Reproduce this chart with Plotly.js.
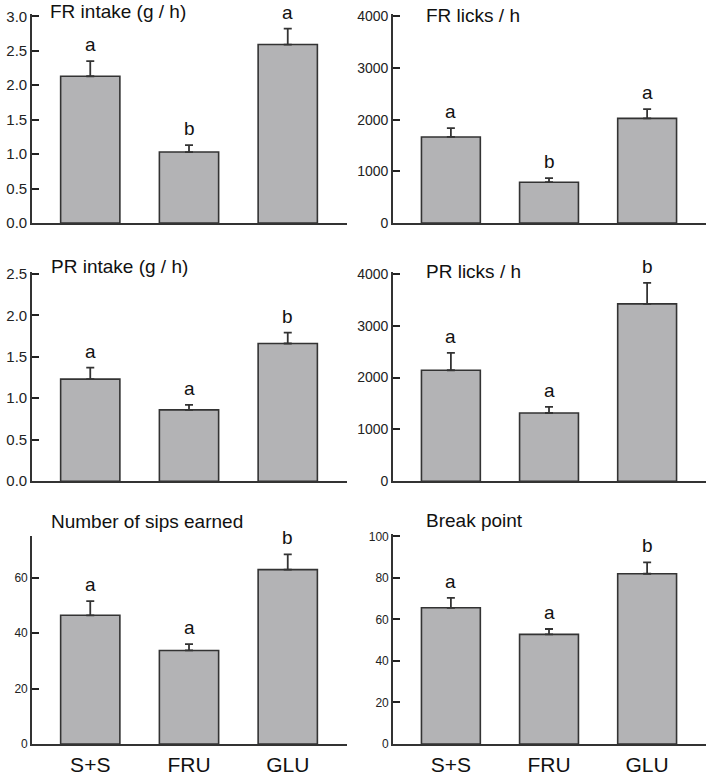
<!DOCTYPE html>
<html>
<head>
<meta charset="utf-8">
<script src="https://cdn.plot.ly/plotly-3.0.1.min.js"></script>
<style>html,body{margin:0;padding:0;background:#fff;}#chart{width:714px;height:778px;}</style>
</head>
<body>
<div id="chart"></div>
<script>
// ---- data ----
var categories = ['S+S', 'FRU', 'GLU'];

var frIntake = [2.13, 1.03, 2.59];
var frIntakeErr = [0.22, 0.10, 0.23];
var frIntakeLetters = ['a', 'b', 'a'];

var frLicks = [1665, 790, 2025];
var frLicksErr = [170, 80, 180];
var frLicksLetters = ['a', 'b', 'a'];

var prIntake = [1.23, 0.86, 1.66];
var prIntakeErr = [0.14, 0.06, 0.13];
var prIntakeLetters = ['a', 'a', 'b'];

var prLicks = [2140, 1315, 3420];
var prLicksErr = [335, 120, 405];
var prLicksLetters = ['a', 'a', 'b'];

var sips = [46.5, 33.8, 63.0];
var sipsErr = [5.1, 2.3, 5.5];
var sipsLetters = ['a', 'a', 'b'];

var breakPoint = [65.6, 52.8, 82.0];
var breakPointErr = [4.8, 2.6, 5.5];
var breakPointLetters = ['a', 'a', 'b'];

var panelTitles = ['FR intake (g / h)', 'FR licks / h', 'PR intake (g / h)', 'PR licks / h', 'Number of sips earned', 'Break point'];

// ---- layout helpers ----
var W = 714, H = 778;
var FONT = '"Liberation Sans", Arial, Helvetica, sans-serif';
var AX = '#333333';
var panels = [
  {vals: frIntake, err: frIntakeErr, letters: frIntakeLetters, top: 3.0, topTick: true, dtick: 0.5, fmt: '.1f', tickSize: 15},
  {vals: frLicks, err: frLicksErr, letters: frLicksLetters, top: 4000, topTick: true, dtick: 1000, fmt: 'd', tickSize: 14},
  {vals: prIntake, err: prIntakeErr, letters: prIntakeLetters, top: 2.5, topTick: true, dtick: 0.5, fmt: '.1f', tickSize: 15},
  {vals: prLicks, err: prLicksErr, letters: prLicksLetters, top: 4000, topTick: true, dtick: 1000, fmt: 'd', tickSize: 14},
  {vals: sips, err: sipsErr, letters: sipsLetters, top: 75, topTick: false, dtick: 20, fmt: 'd', tickSize: 12},
  {vals: breakPoint, err: breakPointErr, letters: breakPointLetters, top: 100, topTick: true, dtick: 20, fmt: 'd', tickSize: 12}
];

var xDomains = [[32 / W, 347 / W], [393 / W, 706 / W]];
// [bottom px, top px] of each row's value axis
var rowPx = [[223, 16.3], [481.2, 273.8], [744, 536.4]];
var titlePos = [[49, 15], [424, 21.5], [49, 273], [424, 278], [49, 527.5], [424, 527]];
var PAD = 2; // px of axis line above a top tick so the tick is not clipped

var data = [];
var layout = {
  width: W, height: H,
  margin: {l: 0, r: 0, t: 0, b: 0},
  paper_bgcolor: '#ffffff', plot_bgcolor: 'rgba(0,0,0,0)',
  showlegend: false,
  font: {family: FONT, color: '#1a1a1a'},
  annotations: []
};

panels.forEach(function (p, i) {
  var n = i + 1;
  var col = i % 2, row = Math.floor(i / 2);
  var xa = n === 1 ? 'x' : 'x' + n;
  var ya = n === 1 ? 'y' : 'y' + n;
  var bot = rowPx[row][0], topPx = rowPx[row][1];
  var hPx = bot - topPx;
  var pad = p.topTick ? PAD : 0;
  var rangeTop = p.top * (hPx + pad) / hPx;
  data.push({
    type: 'bar', x: categories, y: p.vals, xaxis: xa, yaxis: ya, width: 0.6,
    marker: {color: '#b3b3b5', line: {color: AX, width: 1.6}},
    error_y: {type: 'data', symmetric: false, array: p.err, arrayminus: [0, 0, 0], color: AX, thickness: 1.8, width: 4},
    hoverinfo: 'none'
  });
  var xKey = n === 1 ? 'xaxis' : 'xaxis' + n;
  var yKey = n === 1 ? 'yaxis' : 'yaxis' + n;
  layout[xKey] = {
    domain: xDomains[col], anchor: ya, type: 'category', range: [-0.59, 2.6],
    showline: true, linecolor: AX, linewidth: 1.8, ticks: '', showgrid: false, zeroline: false,
    showticklabels: row === 2, tickfont: {size: 21, family: FONT, color: '#111'}, ticklabelstandoff: 1,
    fixedrange: true
  };
  layout[yKey] = {
    domain: [1 - bot / H, 1 - (topPx - pad) / H], anchor: xa, range: [0, rangeTop], dtick: p.dtick, tick0: 0, tickformat: p.fmt,
    showline: true, linecolor: AX, linewidth: 1.8, ticks: 'inside', ticklen: 7, tickwidth: 2, tickcolor: '#222222',
    showgrid: false, zeroline: false, tickfont: {size: p.tickSize, family: FONT, color: '#222'},
    layer: 'above traces', fixedrange: true
  };
  p.vals.forEach(function (v, k) {
    layout.annotations.push({
      xref: xa, yref: ya, x: categories[k], y: v + p.err[k], text: p.letters[k],
      showarrow: false, yanchor: 'bottom', yshift: 4, font: {size: 19, family: FONT, color: '#111'}
    });
  });
  var tp = titlePos[i];
  var ty = 1 - (tp[1] + 6) / H;
  var anchorTop = tp[1] < 20; // keep the top-left title box inside the page
  layout.annotations.push({
    xref: 'paper', yref: 'paper', x: tp[0] / W, y: anchorTop ? 1 : ty, xanchor: 'left', yanchor: anchorTop ? 'top' : 'bottom',
    text: panelTitles[i], showarrow: false, font: {size: 19, family: FONT, color: '#111'}, borderpad: anchorTop ? 0 : 1
  });
});

Plotly.newPlot('chart', data, layout, {displayModeBar: false, staticPlot: true});
</script>
</body>
</html>
